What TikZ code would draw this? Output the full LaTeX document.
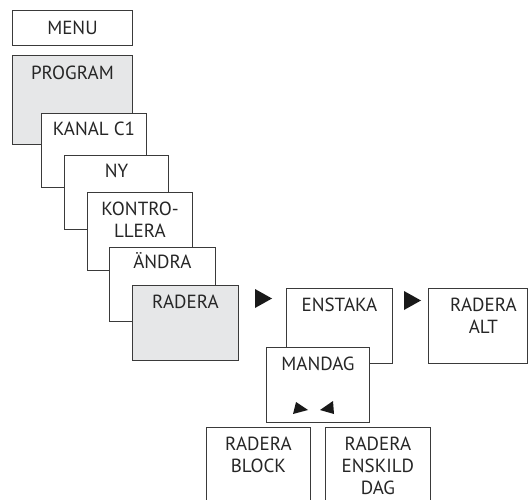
\documentclass[tikz,border=0pt]{standalone}
\usepackage{fontspec}
\setmainfont{PT Sans}
\usetikzlibrary{positioning}
\definecolor{menugrey}{HTML}{E6E7E8}
\definecolor{linegrey}{HTML}{3A3A3A}
\begin{document}
\begin{tikzpicture}[x=1pt, y=-1pt,
        menubox/.style={draw=linegrey, line width=0.9pt, fill=white, anchor=north west, inner sep=0pt, minimum width=105pt, minimum height=75pt},
        selbox/.style={menubox, fill=menugrey},
        boxtext/.style={anchor=base, align=center, inner sep=0pt, text=black!85, font=\fontsize{19}{22}\selectfont},
        pointer/.style={fill=black!90}
      ]
        \path[use as bounding box, clip] (0,0) rectangle (528,500);

        % Main menu stack
        \node[menubox, minimum width=120pt, minimum height=35pt] (menu) at (12,10) {};
        \node[selbox, minimum width=120pt, minimum height=89pt] (program) at (12,55) {};
        \node[menubox, minimum height=74pt] (kanal) at (41,113) {};
        \node[menubox, minimum width=104pt, minimum height=74pt] (ny) at (64,155) {};
        \node[menubox, minimum height=78pt] (kontroll) at (87,192) {};
        \node[menubox, minimum width=106pt, minimum height=74pt] (andra) at (109,247) {};
        \node[selbox, minimum width=106pt] (radera) at (132,285) {};

        % base of a multi-line text is its last line
        \node[boxtext] at ([yshift=-25pt]menu.north) {MENU};
        \node[boxtext] at ([yshift=-25pt]program.north) {PROGRAM};
        \node[boxtext] at ([yshift=-23pt]kanal.north) {KANAL C1};
        \node[boxtext] at ([yshift=-23pt]ny.north) {NY};
        \node[boxtext] at ([yshift=-45pt]kontroll.north) {KONTRO-\\LLERA};
        \node[boxtext] at ([yshift=-22pt]andra.north) {ÄNDRA};
        \node[boxtext] at ([yshift=-23pt]radera.north) {RADERA};

        % Delete submenu
        \node[menubox, minimum width=106pt] (enstaka) at (286,288) {};
        \node[menubox, minimum width=103pt] (mandag) at (266,347) {};
        \node[menubox, minimum width=99pt] (alt) at (428,288) {};
        \node[menubox, minimum width=104pt, minimum height=100pt] (block) at (206,427) {};
        \node[menubox, minimum height=100pt] (enskild) at (325,427) {};

        \node[boxtext] at ([yshift=-23pt]enstaka.north) {ENSTAKA};
        \node[boxtext] at ([yshift=-23pt]mandag.north) {MANDAG};
        \node[boxtext] at ([xshift=5.5pt, yshift=-45pt]alt.north) {RADERA\\ALT};
        \node[boxtext] at ([yshift=-45pt]block.north) {RADERA\\BLOCK};
        \node[boxtext] at ([yshift=-67pt]enskild.north) {RADERA\\ENSKILD\\DAG};

        % Pointers
        \fill[pointer] (255,289) -- (255,308) -- (272,298.5) -- cycle;
        \fill[pointer] (404,291) -- (404,310) -- (421,300.5) -- cycle;
        \fill[pointer] (296,402) -- (293,414) -- (308,410) -- cycle;
        \fill[pointer] (333,401) -- (334,414) -- (320,410) -- cycle;
    \end{tikzpicture}
\end{document}
